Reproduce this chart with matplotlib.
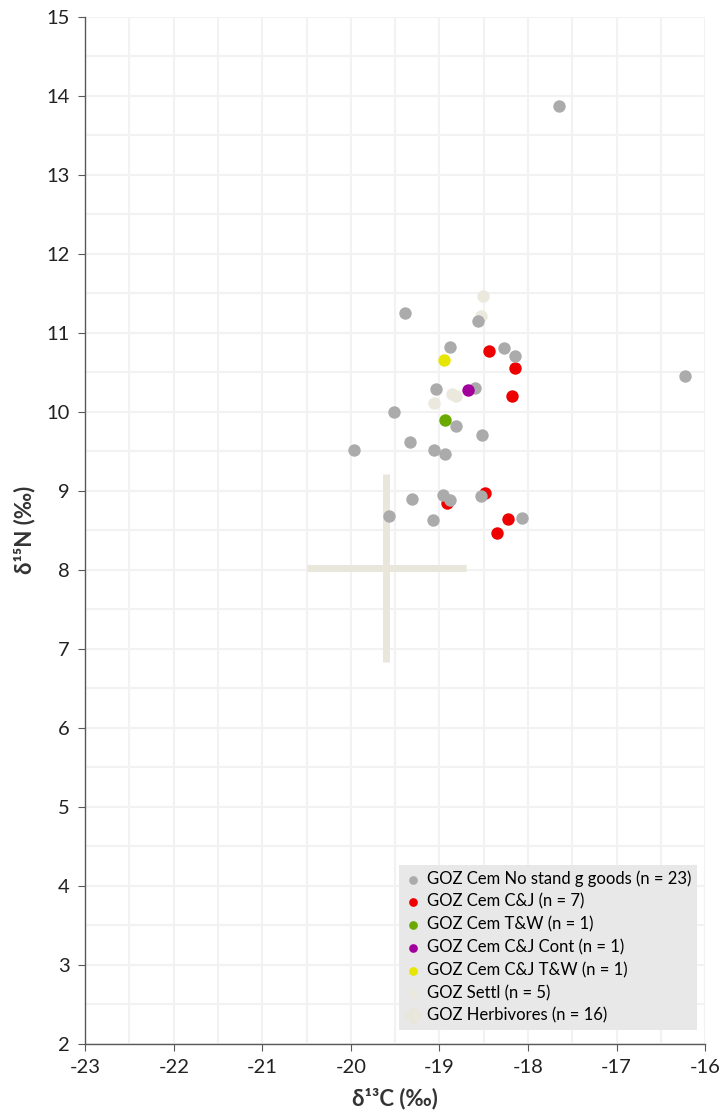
import matplotlib
matplotlib.use("Agg")
import matplotlib.pyplot as plt
from matplotlib.ticker import MultipleLocator

plt.rcParams['font.family'] = ['Lato', 'DejaVu Sans']
plt.rcParams['axes.unicode_minus'] = False

# Data
gray_x = [-17.655, -16.23, -19.39, -18.88, -18.56, -18.27, -18.15, -19.04, -18.60, -19.51,
          -19.33, -19.97, -19.06, -18.94, -18.81, -18.52, -19.31, -18.96, -18.88, -19.57,
          -19.07, -18.53, -18.07]
gray_y = [13.87, 10.45, 11.25, 10.82, 11.15, 10.81, 10.70, 10.29, 10.30, 10.00,
          9.62, 9.51, 9.51, 9.47, 9.82, 9.71, 8.90, 8.95, 8.88, 8.68,
          8.63, 8.94, 8.66]
red_x = [-18.44, -18.15, -18.18, -18.92, -18.49, -18.23, -18.35]
red_y = [10.77, 10.55, 10.20, 8.85, 8.97, 8.64, 8.47]
green_x = [-18.94]
green_y = [9.90]
purple_x = [-18.68]
purple_y = [10.27]
yellow_x = [-18.95]
yellow_y = [10.65]
settl_x = [-18.51, -18.53, -19.06, -18.86, -18.81]
settl_y = [11.47, 11.21, 10.11, 10.22, 10.20]
herb_mean_x = [-19.60]
herb_mean_y = [8.02]
herb_sd_x = [0.90]
herb_sd_y = [1.19]

labels = ["GOZ Cem No stand g goods (n = 23)", "GOZ Cem C&J (n = 7)", "GOZ Cem T&W (n = 1)",
          "GOZ Cem C&J Cont (n = 1)", "GOZ Cem C&J T&W (n = 1)", "GOZ Settl (n = 5)",
          "GOZ Herbivores (n = 16)"]

fig = plt.figure(figsize=(7.22, 11.17), dpi=100)
ax = fig.add_axes([0.118, 0.0654, 0.8587, 0.9197])

s = 80
settl_c = '#ebe8de'
herb = ax.errorbar(herb_mean_x, herb_mean_y, xerr=herb_sd_x, yerr=herb_sd_y, fmt='none',
                   ecolor='#e9e6dc', elinewidth=5, capsize=0, zorder=2)
hs = ax.scatter(settl_x, settl_y, s=s, color=settl_c, zorder=3, linewidths=0)
hr = ax.scatter(red_x, red_y, s=s, color='#ee0000', zorder=4, linewidths=0)
hg = ax.scatter(gray_x, gray_y, s=s, color='#ababab', zorder=5, linewidths=0)
hgr = ax.scatter(green_x, green_y, s=s, color='#6aaa00', zorder=6, linewidths=0)
hp = ax.scatter(purple_x, purple_y, s=s, color='#a3009b', zorder=6, linewidths=0)
hy = ax.scatter(yellow_x, yellow_y, s=s, color='#e6e600', zorder=6, linewidths=0)

ax.set_xlim(-23, -16)
ax.set_ylim(2, 15)
ax.xaxis.set_major_locator(MultipleLocator(1))
ax.yaxis.set_major_locator(MultipleLocator(1))
ax.xaxis.set_minor_locator(MultipleLocator(0.5))
ax.yaxis.set_minor_locator(MultipleLocator(0.5))
ax.grid(which='both', color='#f2f2f2', linewidth=1.5, zorder=0)
ax.set_axisbelow(True)
for sp in ['top', 'right']:
    ax.spines[sp].set_visible(False)
for sp in ['left', 'bottom']:
    ax.spines[sp].set_color('#595959')
    ax.spines[sp].set_linewidth(1.0)
ax.tick_params(which='major', direction='out', length=5, color='#595959',
               labelsize=14.5, labelcolor='#222222', pad=6)
ax.tick_params(which='minor', length=0)

ax.set_xlabel('δ¹³C (‰)', fontsize=16, fontweight='bold', color='#333333', labelpad=8)
ax.set_ylabel('δ¹⁵N (‰)', fontsize=16, fontweight='bold', color='#333333', labelpad=8)

leg = ax.legend([hg, hr, hgr, hp, hy, hs, herb], labels, loc='lower right',
                bbox_to_anchor=(0.987, 0.014), fontsize=12, frameon=True, fancybox=False,
                facecolor='#e8e8e8', edgecolor='none', framealpha=1, markerscale=0.7,
                handlelength=0.9, handletextpad=0.4, labelspacing=0.4, borderpad=0.35,
                borderaxespad=0)
leg.set_zorder(10)

fig.savefig('out.png', dpi=100)
